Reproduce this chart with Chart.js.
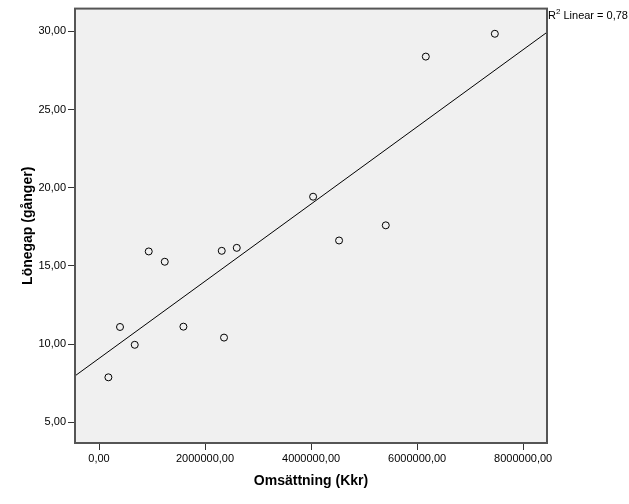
<!DOCTYPE html>
<html>
<head>
<meta charset="utf-8">
<title>Lönegap mot omsättning</title>
<script src="https://cdn.jsdelivr.net/npm/chart.js@4/dist/chart.umd.min.js"></script>
<style>
    html, body { margin: 0; padding: 0; background: #fff; }
    #wrap { width: 629px; height: 504px; }
</style>
</head>
<body>
<div id="wrap"><canvas id="chart" width="629" height="504"></canvas></div>
<script>
'use strict';

// Omsättning (Kkr) per company
var omsattning = [177000, 396000, 674000, 938000, 1240000, 1592000, 2315000, 2358000, 2598000, 4038000, 4528000, 5409000, 6164000, 7466000];
// Lönegap (gånger)
var lonegap = [7.88, 11.10, 9.96, 15.93, 15.27, 11.12, 15.97, 10.42, 16.16, 19.43, 16.63, 17.60, 28.39, 29.85];

var xTicks = [0, 2000000, 4000000, 6000000, 8000000];
var yTicks = [5, 10, 15, 20, 25, 30];
var xRange = [-453000, 8450000];
var yRange = [3.68, 31.46];
var r2Label = ['R', '2', ' Linear = 0,78'];

var FONT = '"Liberation Sans", Arial, sans-serif';

// least squares fit, drawn across the whole x range
function linearFit(xs, ys) {
    var n = xs.length;
    var mx = xs.reduce((a, b) => a + b, 0) / n;
    var my = ys.reduce((a, b) => a + b, 0) / n;
    var sxy = 0, sxx = 0;
    for (var i = 0; i < n; i++) {
        sxy += (xs[i] - mx) * (ys[i] - my);
        sxx += (xs[i] - mx) * (xs[i] - mx);
    }
    var slope = sxy / sxx;
    return { slope: slope, intercept: my - slope * mx };
}

var fit = linearFit(omsattning, lonegap);
var fitLine = xRange.map(x => ({ x: x, y: fit.intercept + fit.slope * x }));
var points = omsattning.map((x, i) => ({ x: x, y: lonegap[i] }));

function fmt(v) {
    return Number(v).toFixed(2).replace('.', ',');
}

// grey plot background + dark frame + R² note
var frame = {
    id: 'frame',
    beforeDraw: function(chart) {
        var a = chart.chartArea, ctx = chart.ctx;
        ctx.save();
        ctx.fillStyle = '#f0f0f0';
        ctx.fillRect(a.left, a.top, a.right - a.left, a.bottom - a.top);
        ctx.restore();
    },
    afterDraw: function(chart) {
        var a = chart.chartArea, ctx = chart.ctx;
        ctx.save();
        ctx.strokeStyle = '#555';
        ctx.lineWidth = 2;
        ctx.strokeRect(a.left, a.top, a.right - a.left, a.bottom - a.top);

        ctx.fillStyle = '#000';
        ctx.textBaseline = 'alphabetic';
        var x = a.right + 1, y = 19;
        ctx.font = '11px ' + FONT;
        ctx.fillText(r2Label[0], x, y);
        x += ctx.measureText(r2Label[0]).width;
        ctx.font = '8px ' + FONT;
        ctx.fillText(r2Label[1], x, y - 5);
        x += ctx.measureText(r2Label[1]).width;
        ctx.font = '11px ' + FONT;
        ctx.fillText(r2Label[2], x, y);
        ctx.restore();
    }
};

var tickGrid = {
    display: true,
    drawOnChartArea: false,
    drawTicks: true,
    tickLength: 7,
    tickWidth: 1,
    tickColor: '#333'
};

new Chart(document.getElementById('chart'), {
    type: 'scatter',
    data: {
        datasets: [{
            type: 'line',
            data: fitLine,
            borderColor: '#000',
            borderWidth: 1,
            pointRadius: 0,
            fill: false
        }, {
            data: points,
            pointStyle: 'circle',
            pointRadius: 3.5,
            pointBorderWidth: 1,
            pointBorderColor: '#000',
            pointBackgroundColor: 'rgba(0,0,0,0)'
        }]
    },
    options: {
        responsive: false,
        animation: false,
        layout: { padding: { top: 6, right: 82, bottom: 0, left: 0 } },
        plugins: {
            legend: { display: false },
            tooltip: { enabled: false }
        },
        scales: {
            x: {
                type: 'linear',
                min: xRange[0],
                max: xRange[1],
                afterBuildTicks: s => { s.ticks = xTicks.map(v => ({ value: v })); },
                afterFit: s => { s.height = 61; },
                grid: tickGrid,
                border: { display: false },
                ticks: {
                    callback: fmt,
                    color: '#000',
                    padding: 2,
                    maxRotation: 0,
                    font: { family: FONT, size: 11 }
                },
                title: {
                    display: true,
                    text: 'Omsättning (Kkr)',
                    color: '#000',
                    padding: { top: 0, bottom: 14 },
                    font: { family: FONT, size: 14, weight: 'bold' }
                }
            },
            y: {
                type: 'linear',
                min: yRange[0],
                max: yRange[1],
                afterBuildTicks: s => { s.ticks = yTicks.map(v => ({ value: v })); },
                afterFit: s => { s.width = 75; },
                grid: tickGrid,
                border: { display: false },
                ticks: {
                    callback: fmt,
                    color: '#000',
                    padding: 2,
                    font: { family: FONT, size: 11 }
                },
                title: {
                    display: true,
                    text: 'Lönegap (gånger)',
                    color: '#000',
                    padding: { top: 20, bottom: 0 },
                    font: { family: FONT, size: 14, weight: 'bold' }
                }
            }
        }
    },
    plugins: [frame]
});
</script>
</body>
</html>
